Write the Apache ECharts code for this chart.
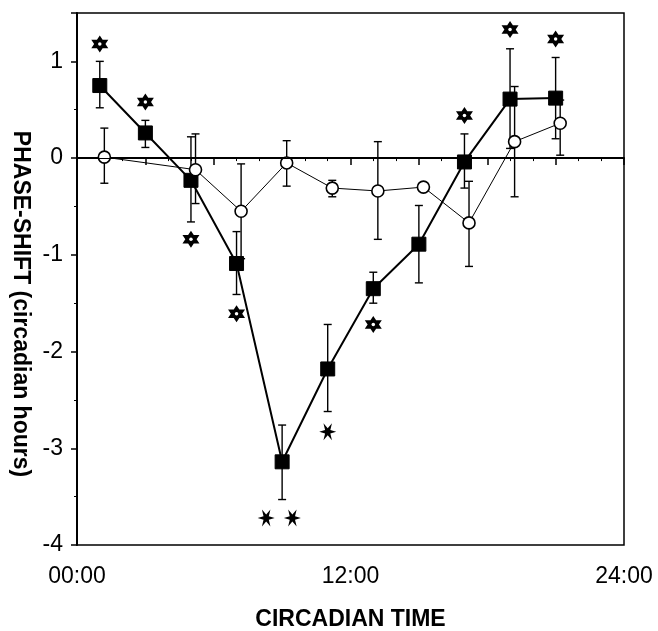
<!DOCTYPE html>
<html><head><meta charset="utf-8">
<script src="https://cdn.jsdelivr.net/npm/echarts@6/dist/echarts.min.js"></script>
<style>html,body{margin:0;padding:0;background:#fff}#c{width:658px;height:631px}</style>
</head><body><div id="c"></div>
<script>
// Filled squares (treatment)
const sqX = [1, 3, 5, 7, 9, 11, 13, 15, 17, 19, 21];
const sqY = [0.75, 0.26, -0.23, -1.09, -3.14, -2.18, -1.35, -0.89, -0.04, 0.61, 0.62];
const sqHi = [1.0, 0.39, 0.22, -0.76, -2.76, -1.72, -1.18, -0.49, 0.25, 1.13, 1.04];
const sqLo = [0.52, 0.11, -0.66, -1.41, -3.53, -2.62, -1.50, -1.29, -0.31, 0.10, 0.20];
// Open circles (control)
const ciX = [1.2, 5.2, 7.2, 9.2, 11.2, 13.2, 15.2, 17.2, 19.2, 21.2];
const ciY = [0.01, -0.12, -0.55, -0.05, -0.31, -0.34, -0.30, -0.67, 0.17, 0.36];
const ciHi = [0.31, 0.25, -0.06, 0.18, -0.23, 0.17, -0.27, -0.24, 0.74, 0.60];
const ciLo = [-0.26, -0.47, -1.04, -0.29, -0.40, -0.84, -0.33, -1.12, -0.40, 0.03];
// significance markers
const openStarX = [1, 3, 5, 7, 13, 17, 19, 21];
const openStarY = [1.18, 0.58, -0.84, -1.61, -1.72, 0.44, 1.33, 1.23];
const asterX = [8.3, 9.45, 11];
const asterY = [-3.72, -3.72, -2.83];
// axis ticks
const xTickLabels = {0: '00:00', 12: '12:00', 24: '24:00'};
const yTickLabels = [-4, -3, -2, -1, 0, 1];

const zip = (a, b) => a.map((v, i) => [v, b[i]]);
const errData = (x, lo, hi) => x.map((v, i) => [v, lo[i], hi[i]]);

const HEX = 'path://M10 0 L12.89 5 L18.66 5 L15.77 10 L18.66 15 L12.89 15 L10 20 L7.11 15 L1.34 15 L4.23 10 L1.34 5 L7.11 5 Z';
const AST = 'path://M10 0 L11.8 6.9 L18.66 5 L13.6 10 L18.66 15 L11.8 13.1 L10 20 L8.2 13.1 L1.34 15 L6.4 10 L1.34 5 L8.2 6.9 Z';

function errRender(params, api) {
  const x = api.value(0);
  const lo = api.coord([x, api.value(1)]);
  const hi = api.coord([x, api.value(2)]);
  const w = 4;
  const style = {stroke: '#000', lineWidth: 1.4};
  return {type: 'group', children: [
    {type: 'line', shape: {x1: lo[0], y1: lo[1], x2: hi[0], y2: hi[1]}, style},
    {type: 'line', shape: {x1: lo[0] - w, y1: lo[1], x2: lo[0] + w, y2: lo[1]}, style},
    {type: 'line', shape: {x1: hi[0] - w, y1: hi[1], x2: hi[0] + w, y2: hi[1]}, style}
  ]};
}

const font = 'Liberation Sans';
const chart = echarts.init(document.getElementById('c'));
chart.setOption({
  animation: false,
  backgroundColor: '#fff',
  grid: {left: 77, right: 34, top: 13, bottom: 86, containLabel: false, outerBoundsMode: 'none',
    show: true, borderColor: '#000', borderWidth: 1.5, backgroundColor: 'transparent'},
  xAxis: {
    type: 'value', min: 0, max: 24, interval: 3,
    name: 'CIRCADIAN TIME', nameLocation: 'middle', nameGap: 63,
    nameTextStyle: {fontFamily: font, fontWeight: 'bold', fontSize: 23, color: '#000'},
    axisLine: {lineStyle: {color: '#000', width: 2}},
    axisTick: {length: 7, lineStyle: {color: '#000', width: 1.5}},
    minorTick: {show: true, splitNumber: 3, length: 3, lineStyle: {color: '#000', width: 1}},
    splitLine: {show: false},
    axisLabel: {margin: 20, fontFamily: font, fontSize: 23, color: '#000',
      formatter: v => (xTickLabels[v] !== undefined ? xTickLabels[v] : '')}
  },
  yAxis: {
    type: 'value', min: -4, max: 1.5, interval: 1,
    name: 'PHASE-SHIFT (circadian hours)', nameLocation: 'middle', nameGap: 43, nameRotate: -90,
    nameTextStyle: {fontFamily: font, fontWeight: 'bold', fontSize: 23, color: '#000', padding: [0, 0, 0, 50]},
    axisLine: {lineStyle: {color: '#000', width: 2}},
    axisTick: {length: 6, lineStyle: {color: '#000', width: 1.5}},
    minorTick: {show: true, splitNumber: 2, length: 3, lineStyle: {color: '#000', width: 1}},
    splitLine: {show: false},
    axisLabel: {margin: 14, fontFamily: font, fontSize: 23, color: '#000',
      formatter: v => (yTickLabels.indexOf(v) >= 0 ? String(v) : '')}
  },
  series: [
    {type: 'line', data: [], markLine: {silent: true, symbol: 'none', label: {show: false},
      lineStyle: {color: '#000', width: 1.2, type: 'solid'}, data: [{yAxis: 0}]}},
    {type: 'custom', renderItem: errRender, data: errData(sqX, sqLo, sqHi), z: 2},
    {type: 'custom', renderItem: errRender, data: errData(ciX, ciLo, ciHi), z: 2},
    {type: 'line', data: zip(sqX, sqY), symbol: 'rect', symbolSize: 14,
      lineStyle: {color: '#000', width: 2}, itemStyle: {color: '#000', borderColor: '#000'}, z: 3},
    {type: 'line', data: zip(ciX, ciY), symbol: 'circle', symbolSize: 12,
      lineStyle: {color: '#000', width: 1}, itemStyle: {color: '#fff', borderColor: '#000', borderWidth: 1.6}, z: 4},
    {type: 'scatter', data: zip(openStarX, openStarY), symbol: HEX, symbolSize: 17,
      itemStyle: {color: '#000', opacity: 1}, z: 5},
    {type: 'scatter', data: zip(openStarX, openStarY), symbol: 'circle', symbolSize: 3.5,
      itemStyle: {color: '#fff', opacity: 1}, z: 6},
    {type: 'scatter', data: zip(asterX, asterY), symbol: AST, symbolSize: 17, symbolRotate: 90,
      itemStyle: {color: '#000', opacity: 1}, z: 5}
  ]
});
</script></body></html>
